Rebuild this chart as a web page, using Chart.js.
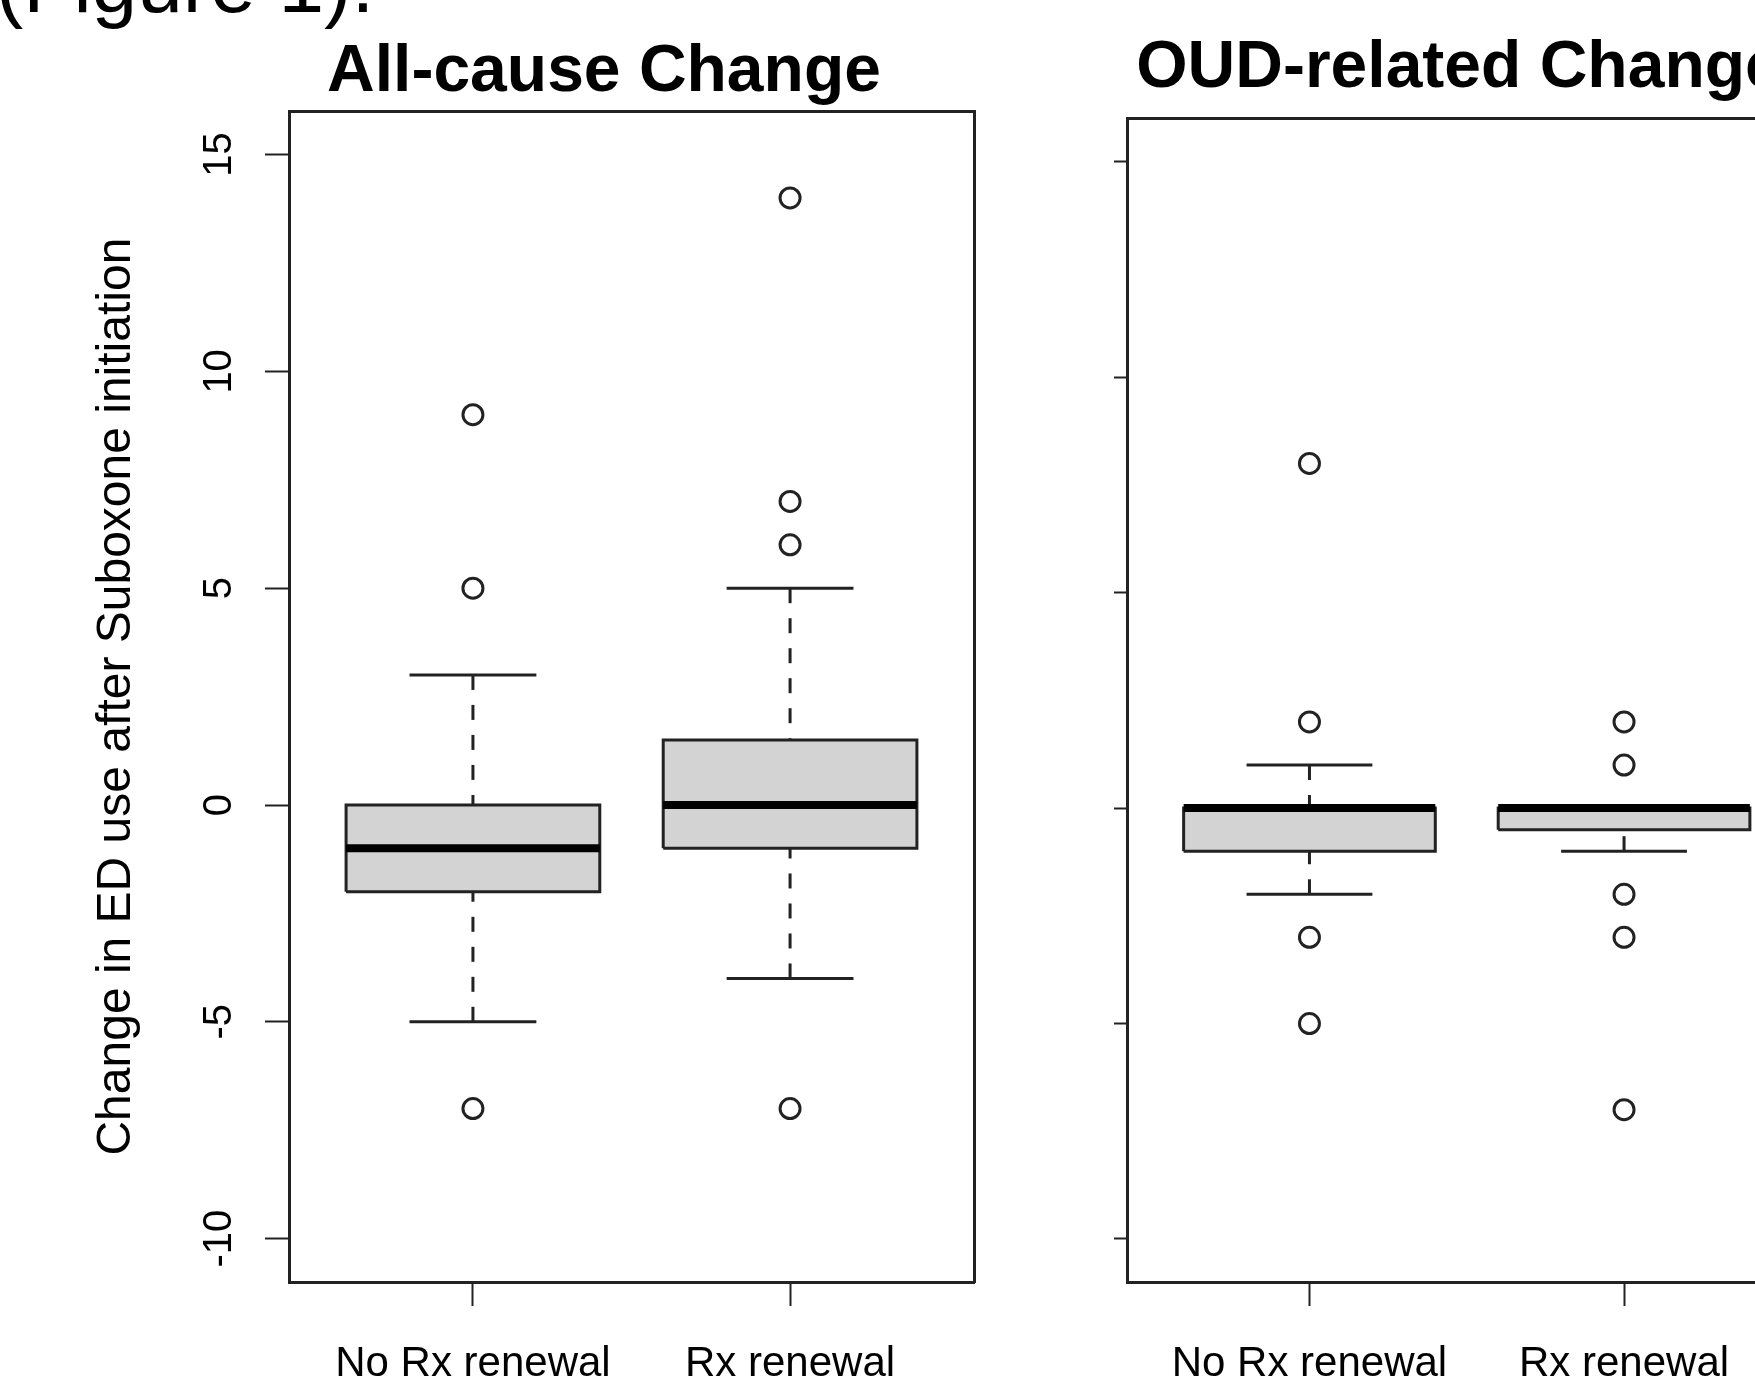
<!DOCTYPE html>
<html lang="en">
<head>
    <meta charset="UTF-8">
    <script src="https://cdn.jsdelivr.net/npm/chart.js"></script>
    <style>
        body {
            margin: 0;
            width: 1755px;
            height: 1376px;
            overflow: hidden;
            background: #fff;
            position: relative;
            font-family: "Liberation Sans", Arial, sans-serif;
        }
        #figRef {
            position: absolute;
            left: -4px;
            top: -57px;
            font-size: 82px;
            line-height: 82px;
            white-space: nowrap;
            color: #000;
        }
        .panel { position: absolute; top: 0; height: 1400px; }
        #panelAll { left: 0; width: 1208px; }
        #panelOud { left: 1000px; width: 918px; }
    </style>
</head>
<body>
    <div id="figRef">(Figure 1).</div>
    <div class="panel" id="panelAll"><canvas id="allCauseChart"></canvas></div>
    <div class="panel" id="panelOud"><canvas id="oudChart"></canvas></div>

<script>
    // groups on the x axis
    const groups = ['No Rx renewal', 'Rx renewal'];
    const yTicks = [-10, -5, 0, 5, 10, 15];

    // All-cause change
    const allLower = [-5, -4];
    const allQ1 = [-2, -1];
    const allMedian = [-1, 0];
    const allQ3 = [0, 1.5];
    const allUpper = [3, 5];
    const allOutliers = [[9, 5, -7], [14, 7, 6, -7]];

    // OUD-related change
    const oudLower = [-2, -1];
    const oudQ1 = [-1, -0.5];
    const oudMedian = [0, 0];
    const oudQ3 = [0, 0];
    const oudUpper = [1, 0];
    const oudOutliers = [[8, 2, -3, -5], [2, 1, -2, -3, -7]];

    const ink = '#222';
    const boxFill = '#d3d3d3';
    const halfBox = 0.4;   // R boxwex 0.8
    const halfCap = 0.2;   // staple width

    Chart.defaults.font.family = '"Liberation Sans", Arial, sans-serif';
    Chart.defaults.color = '#000';

    function seg(points, extra) {
        return Object.assign({
            type: 'line',
            data: points.map(p => ({ x: p[0], y: p[1] })),
            borderColor: ink,
            borderWidth: 3,
            pointRadius: 0,
            tension: 0,
            fill: false
        }, extra);
    }

    // build the boxplot pieces for one panel
    function boxDatasets(lower, q1, median, q3, upper, outliers) {
        const sets = [];
        groups.forEach((name, i) => {
            const c = i + 1;
            // grey box body
            sets.push(seg([[c - halfBox, q3[i]], [c + halfBox, q3[i]]],
                { fill: { value: q1[i] }, backgroundColor: boxFill, borderWidth: 0, order: 6 }));
            // dashed whiskers, drawn from the staple towards the box
            sets.push(seg([[c, upper[i]], [c, q3[i]]], { borderDash: [15, 15], order: 5 }));
            sets.push(seg([[c, lower[i]], [c, q1[i]]], { borderDash: [15, 15], order: 5 }));
            // staples
            sets.push(seg([[c - halfCap, upper[i]], [c + halfCap, upper[i]]], { order: 4 }));
            sets.push(seg([[c - halfCap, lower[i]], [c + halfCap, lower[i]]], { order: 4 }));
            // box outline
            sets.push(seg([[c - halfBox, q1[i]], [c - halfBox, q3[i]], [c + halfBox, q3[i]],
                           [c + halfBox, q1[i]], [c - halfBox, q1[i]]],
                { borderJoinStyle: 'miter', order: 3 }));
            // median
            sets.push(seg([[c - halfBox, median[i]], [c + halfBox, median[i]]],
                { borderWidth: 8, borderColor: '#000', borderCapStyle: 'butt', order: 2 }));
        });
        // outliers as open circles
        const pts = [];
        outliers.forEach((arr, i) => arr.forEach(v => pts.push({ x: i + 1, y: v })));
        sets.push({
            type: 'line',
            data: pts,
            showLine: false,
            pointRadius: 10,
            pointBorderWidth: 3,
            pointBorderColor: ink,
            pointBackgroundColor: 'rgba(0,0,0,0)',
            order: 1
        });
        return sets;
    }

    function makePanel(canvasId, title, titlePad, datasets, leftWidth, rightWidth, yTickLen, showYLabels) {
        return new Chart(document.getElementById(canvasId), {
            type: 'line',
            data: { datasets: datasets },
            options: {
                responsive: true,
                maintainAspectRatio: false,
                animation: false,
                events: [],
                layout: { padding: 0 },
                plugins: {
                    legend: { display: false },
                    tooltip: { enabled: false },
                    title: {
                        display: true,
                        text: title,
                        font: { size: 66, weight: 'bold', lineHeight: 1.1 },
                        color: '#000',
                        padding: titlePad
                    }
                },
                scales: {
                    x: {
                        type: 'linear',
                        min: 0.42,
                        max: 2.58,
                        afterBuildTicks: s => { s.ticks = groups.map((g, i) => ({ value: i + 1 })); },
                        afterFit: s => { s.height = 118; },
                        ticks: {
                            callback: (v, i) => groups[i],
                            font: { size: 42 },
                            color: '#000',
                            padding: 33,
                            minRotation: 0,
                            maxRotation: 0,
                            autoSkip: false
                        },
                        grid: { drawOnChartArea: false, tickLength: 24, tickWidth: 2, tickColor: ink },
                        border: { display: true, width: 3, color: ink }
                    },
                    x2: {
                        type: 'linear',
                        position: 'top',
                        min: 0, max: 1,
                        afterFit: s => { s.height = 0; },
                        ticks: { display: false },
                        grid: { display: false },
                        border: { display: true, width: 3, color: ink }
                    },
                    y: {
                        type: 'linear',
                        min: -11,
                        max: 16,
                        afterBuildTicks: s => { s.ticks = yTicks.map(v => ({ value: v })); },
                        afterFit: s => { s.width = leftWidth; },
                        ticks: {
                            display: showYLabels,
                            minRotation: 90,
                            maxRotation: 90,
                            crossAlign: 'center',
                            padding: 16,
                            font: { size: 40 },
                            color: '#000'
                        },
                        grid: { drawOnChartArea: false, tickLength: yTickLen, tickWidth: 2, tickColor: ink },
                        border: { display: true, width: 3, color: ink },
                        title: {
                            display: showYLabels,
                            text: 'Change in ED use after Suboxone initiation',
                            font: { size: 48 },
                            color: '#000',
                            padding: { top: 88, bottom: 0 }
                        }
                    },
                    y2: {
                        type: 'linear',
                        position: 'right',
                        min: 0, max: 1,
                        afterFit: s => { s.width = rightWidth; },
                        ticks: { display: false },
                        grid: { display: false },
                        border: { display: true, width: 3, color: ink }
                    }
                }
            }
        });
    }

    makePanel('allCauseChart', 'All-cause Change', { top: 36.7, bottom: 1.9 },
        boxDatasets(allLower, allQ1, allMedian, allQ3, allUpper, allOutliers), 289, 234, 24, true);

    makePanel('oudChart', 'OUD-related Change', { top: 32.7, bottom: 13.5 },
        boxDatasets(oudLower, oudQ1, oudMedian, oudQ3, oudUpper, oudOutliers), 127, 111.5, 13, false);
</script>
</body>
</html>
